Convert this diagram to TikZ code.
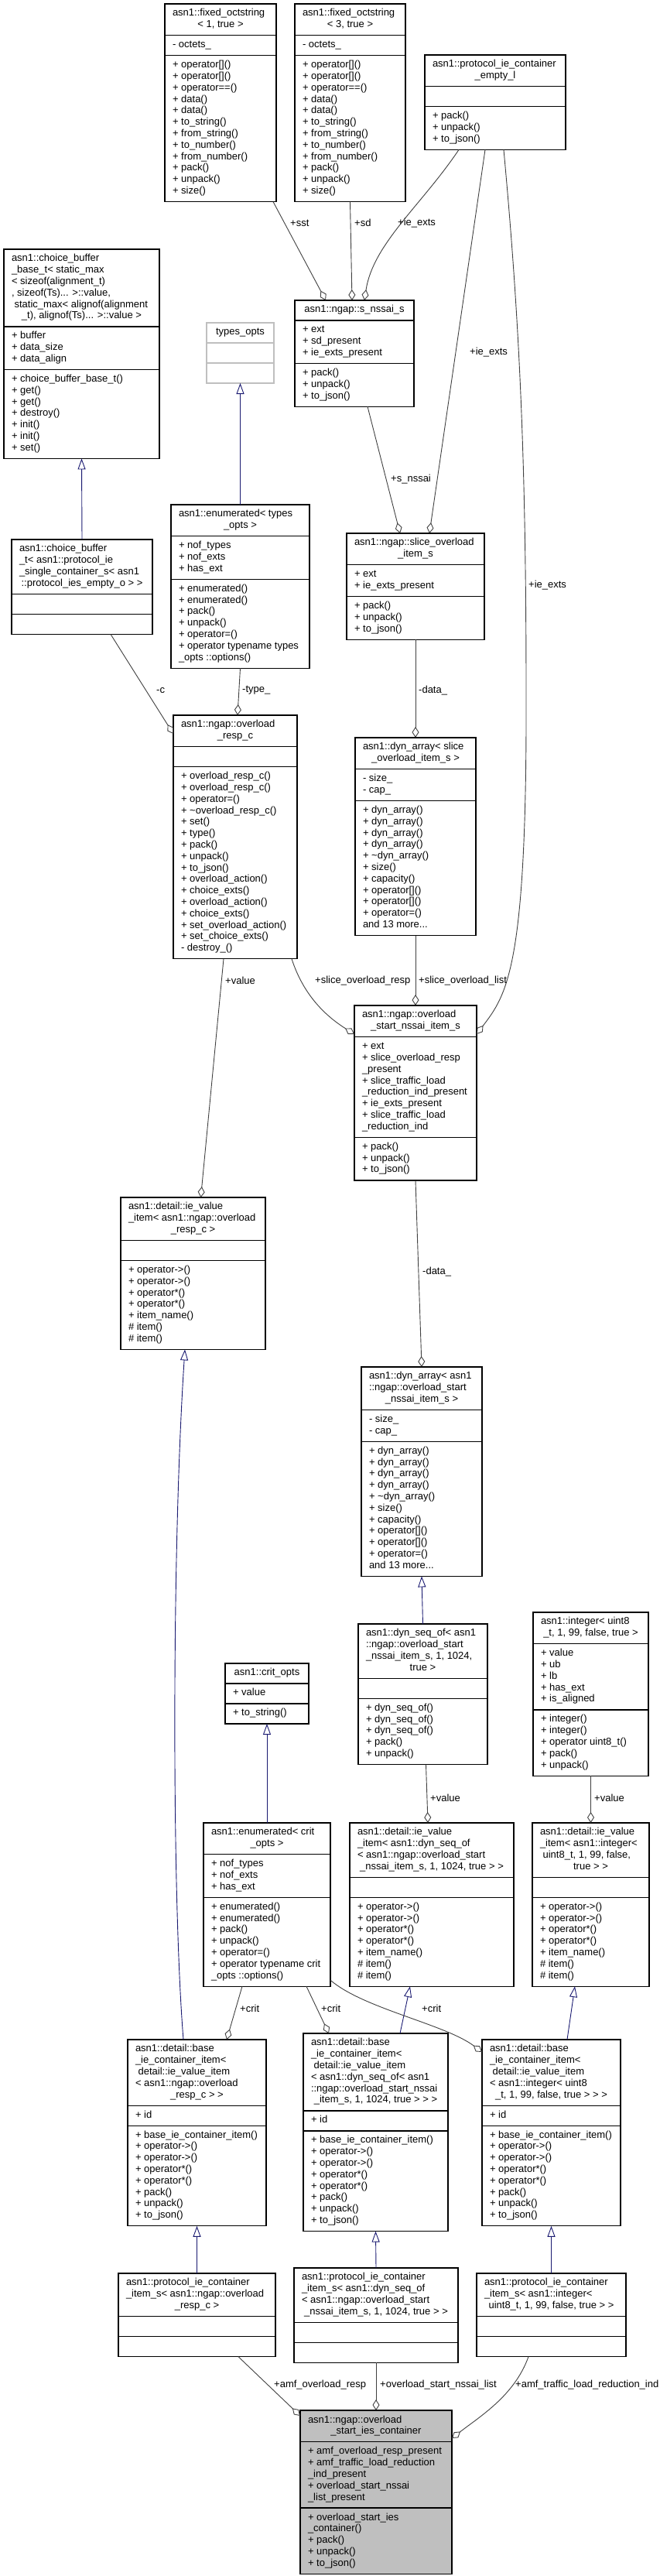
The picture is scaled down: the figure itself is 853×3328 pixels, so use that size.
\documentclass[tikz,border=0pt]{standalone}
\usepackage{fontspec}
\setmainfont{Liberation Sans}
\usetikzlibrary{shapes.multipart}
\usetikzlibrary{arrows.meta}

\definecolor{grey25}{HTML}{404040}
\definecolor{grey75}{HTML}{BFBFBF}
\definecolor{midblue}{HTML}{191970}

\newcommand{\clsect}[1]{\strut#1\strut}
\newcommand{\clmid}[1]{\makebox[\clw][c]{#1}}

\begin{document}
\begin{tikzpicture}[
    x=1pt, y=-1pt,
    cls/.style={
        rectangle split,
        rectangle split parts=3,
        rectangle split part align=left,
        draw=black,
        line width=1.2pt,
        fill=white,
        inner xsep=10pt,
        inner ysep=5pt,
        outer sep=0pt,
        anchor=north west,
        align=left,
        font=\fontsize{13}{14.8}\selectfont
    },
    cw/.style={
        minimum width=#1pt,
        /utils/exec={\pgfmathsetlengthmacro\clw{#1pt-20pt}}
    },
    agg/.style={draw=grey25, line width=0.9pt, -{Diamond[open, length=14pt, width=9pt]}},
    inh/.style={draw=midblue, line width=0.9pt, -{Triangle[open, length=14pt, width=10pt]}},
    lbl/.style={font=\fontsize{13}{14.8}\selectfont, inner sep=0pt, anchor=west}
]
    \useasboundingbox (0,0) rectangle (853,3328);

    % Clases
    \node[cls, cw=144] (fixA) at (213,5) {\clsect{asn1::fixed\_octstring\\\clmid{< 1, true >}}
        \nodepart{second}\clsect{- octets\_}
        \nodepart{third}\clsect{+ operator[]()\\+ operator[]()\\+ operator==()\\+ data()\\+ data()\\+ to\_string()\\+ from\_string()\\+ to\_number()\\+ from\_number()\\+ pack()\\+ unpack()\\+ size()}};
    \node[cls, cw=143] (fixB) at (381,5) {\clsect{asn1::fixed\_octstring\\\clmid{< 3, true >}}
        \nodepart{second}\clsect{- octets\_}
        \nodepart{third}\clsect{+ operator[]()\\+ operator[]()\\+ operator==()\\+ data()\\+ data()\\+ to\_string()\\+ from\_string()\\+ to\_number()\\+ from\_number()\\+ pack()\\+ unpack()\\+ size()}};
    \node[cls, cw=182] (emptyL) at (549,71) {\clsect{asn1::protocol\_ie\_container\\\clmid{\_empty\_l}}
        \nodepart{second}\clsect{}
        \nodepart{third}\clsect{+ pack()\\+ unpack()\\+ to\_json()}};
    \node[cls, cw=201] (cbBase) at (5,322) {\clsect{asn1::choice\_buffer\\\_base\_t< static\_max\\< sizeof(alignment\_t)\\, sizeof(Ts)... >::value,\\\hspace*{3.6pt}static\_max< alignof(alignment\\\clmid{\_t), alignof(Ts)... >::value >}}
        \nodepart{second}\clsect{+ buffer\\+ data\_size\\+ data\_align}
        \nodepart{third}\clsect{+ choice\_buffer\_base\_t()\\+ get()\\+ get()\\+ destroy()\\+ init()\\+ init()\\+ set()}};
    \node[cls, cw=87, draw=grey75] (typesOpts) at (267,417) {\clsect{\clmid{types\_opts}}
        \nodepart{second}\clsect{}
        \nodepart{third}\clsect{}};
    \node[cls, cw=154] (sNssai) at (381,388) {\clsect{\clmid{asn1::ngap::s\_nssai\_s}}
        \nodepart{second}\clsect{+ ext\\+ sd\_present\\+ ie\_exts\_present}
        \nodepart{third}\clsect{+ pack()\\+ unpack()\\+ to\_json()}};
    \node[cls, cw=182] (cbT) at (15,697) {\clsect{asn1::choice\_buffer\\\_t< asn1::protocol\_ie\\\_single\_container\_s< asn1\\\clmid{::protocol\_ies\_empty\_o > >}}
        \nodepart{second}\clsect{}
        \nodepart{third}\clsect{}};
    \node[cls, cw=179] (enumTypes) at (221,652) {\clsect{asn1::enumerated< types\\\clmid{\_opts >}}
        \nodepart{second}\clsect{+ nof\_types\\+ nof\_exts\\+ has\_ext}
        \nodepart{third}\clsect{+ enumerated()\\+ enumerated()\\+ pack()\\+ unpack()\\+ operator=()\\+ operator typename types\\\_opts ::options()}};
    \node[cls, cw=178] (sliceItem) at (448,689) {\clsect{asn1::ngap::slice\_overload\\\clmid{\_item\_s}}
        \nodepart{second}\clsect{+ ext\\+ ie\_exts\_present}
        \nodepart{third}\clsect{+ pack()\\+ unpack()\\+ to\_json()}};
    \node[cls, cw=156] (dynSlice) at (459,953) {\clsect{asn1::dyn\_array< slice\\\clmid{\_overload\_item\_s >}}
        \nodepart{second}\clsect{- size\_\\- cap\_}
        \nodepart{third}\clsect{+ dyn\_array()\\+ dyn\_array()\\+ dyn\_array()\\+ dyn\_array()\\+ \textasciitilde dyn\_array()\\+ size()\\+ capacity()\\+ operator[]()\\+ operator[]()\\+ operator=()\\and 13 more...}};
    \node[cls, cw=160] (respC) at (224,924) {\clsect{asn1::ngap::overload\\\clmid{\_resp\_c}}
        \nodepart{second}\clsect{}
        \nodepart{third}\clsect{+ overload\_resp\_c()\\+ overload\_resp\_c()\\+ operator=()\\+ \textasciitilde overload\_resp\_c()\\+ set()\\+ type()\\+ pack()\\+ unpack()\\+ to\_json()\\+ overload\_action()\\+ choice\_exts()\\+ overload\_action()\\+ choice\_exts()\\+ set\_overload\_action()\\+ set\_choice\_exts()\\- destroy\_()}};
    \node[cls, cw=158] (nssaiItem) at (458,1299) {\clsect{asn1::ngap::overload\\\clmid{\_start\_nssai\_item\_s}}
        \nodepart{second}\clsect{+ ext\\+ slice\_overload\_resp\\\_present\\+ slice\_traffic\_load\\\_reduction\_ind\_present\\+ ie\_exts\_present\\+ slice\_traffic\_load\\\_reduction\_ind}
        \nodepart{third}\clsect{+ pack()\\+ unpack()\\+ to\_json()}};
    \node[cls, cw=187] (ieValResp) at (156,1547) {\clsect{asn1::detail::ie\_value\\\_item< asn1::ngap::overload\\\clmid{\_resp\_c >}}
        \nodepart{second}\clsect{}
        \nodepart{third}\clsect{+ operator->()\\+ operator->()\\+ operator*()\\+ operator*()\\+ item\_name()\\\# item()\\\# item()}};
    \node[cls, cw=156] (dynNssai) at (467,1766) {\clsect{asn1::dyn\_array< asn1\\::ngap::overload\_start\\\clmid{\_nssai\_item\_s >}}
        \nodepart{second}\clsect{- size\_\\- cap\_}
        \nodepart{third}\clsect{+ dyn\_array()\\+ dyn\_array()\\+ dyn\_array()\\+ dyn\_array()\\+ \textasciitilde dyn\_array()\\+ size()\\+ capacity()\\+ operator[]()\\+ operator[]()\\+ operator=()\\and 13 more...}};
    \node[cls, cw=108] (critOpts) at (291,2149) {\clsect{\clmid{asn1::crit\_opts}}
        \nodepart{second}\clsect{+ value}
        \nodepart{third}\clsect{+ to\_string()}};
    \node[cls, cw=167] (dynSeq) at (463,2098) {\clsect{asn1::dyn\_seq\_of< asn1\\::ngap::overload\_start\\\_nssai\_item\_s, 1, 1024,\\\clmid{true >}}
        \nodepart{second}\clsect{}
        \nodepart{third}\clsect{+ dyn\_seq\_of()\\+ dyn\_seq\_of()\\+ dyn\_seq\_of()\\+ pack()\\+ unpack()}};
    \node[cls, cw=149] (integer) at (689,2083) {\clsect{asn1::integer< uint8\\\clmid{\_t, 1, 99, false, true >}}
        \nodepart{second}\clsect{+ value\\+ ub\\+ lb\\+ has\_ext\\+ is\_aligned}
        \nodepart{third}\clsect{+ integer()\\+ integer()\\+ operator uint8\_t()\\+ pack()\\+ unpack()}};
    \node[cls, cw=164] (enumCrit) at (263,2355) {\clsect{asn1::enumerated< crit\\\clmid{\_opts >}}
        \nodepart{second}\clsect{+ nof\_types\\+ nof\_exts\\+ has\_ext}
        \nodepart{third}\clsect{+ enumerated()\\+ enumerated()\\+ pack()\\+ unpack()\\+ operator=()\\+ operator typename crit\\\_opts ::options()}};
    \node[cls, cw=212] (ieValSeq) at (452,2355) {\clsect{asn1::detail::ie\_value\\\_item< asn1::dyn\_seq\_of\\< asn1::ngap::overload\_start\\\clmid{\_nssai\_item\_s, 1, 1024, true > >}}
        \nodepart{second}\clsect{}
        \nodepart{third}\clsect{+ operator->()\\+ operator->()\\+ operator*()\\+ operator*()\\+ item\_name()\\\# item()\\\# item()}};
    \node[cls, cw=151] (ieValInt) at (688,2355) {\clsect{asn1::detail::ie\_value\\\_item< asn1::integer<\\\hspace*{3.6pt}uint8\_t, 1, 99, false,\\\clmid{true > >}}
        \nodepart{second}\clsect{}
        \nodepart{third}\clsect{+ operator->()\\+ operator->()\\+ operator*()\\+ operator*()\\+ item\_name()\\\# item()\\\# item()}};
    \node[cls, cw=179] (base1) at (165,2635) {\clsect{asn1::detail::base\\\_ie\_container\_item<\\\hspace*{3.6pt}detail::ie\_value\_item\\< asn1::ngap::overload\\\clmid{\_resp\_c > >}}
        \nodepart{second}\clsect{+ id}
        \nodepart{third}\clsect{+ base\_ie\_container\_item()\\+ operator->()\\+ operator->()\\+ operator*()\\+ operator*()\\+ pack()\\+ unpack()\\+ to\_json()}};
    \node[cls, cw=187] (base2) at (392,2627) {\clsect{asn1::detail::base\\\_ie\_container\_item<\\\hspace*{3.6pt}detail::ie\_value\_item\\< asn1::dyn\_seq\_of< asn1\\::ngap::overload\_start\_nssai\\\clmid{\_item\_s, 1, 1024, true > > >}}
        \nodepart{second}\clsect{+ id}
        \nodepart{third}\clsect{+ base\_ie\_container\_item()\\+ operator->()\\+ operator->()\\+ operator*()\\+ operator*()\\+ pack()\\+ unpack()\\+ to\_json()}};
    \node[cls, cw=179] (base3) at (623,2635) {\clsect{asn1::detail::base\\\_ie\_container\_item<\\\hspace*{3.6pt}detail::ie\_value\_item\\< asn1::integer< uint8\\\clmid{\_t, 1, 99, false, true > > >}}
        \nodepart{second}\clsect{+ id}
        \nodepart{third}\clsect{+ base\_ie\_container\_item()\\+ operator->()\\+ operator->()\\+ operator*()\\+ operator*()\\+ pack()\\+ unpack()\\+ to\_json()}};
    \node[cls, cw=203] (pic1) at (153,2937) {\clsect{asn1::protocol\_ie\_container\\\_item\_s< asn1::ngap::overload\\\clmid{\_resp\_c >}}
        \nodepart{second}\clsect{}
        \nodepart{third}\clsect{}};
    \node[cls, cw=212] (pic2) at (380,2930) {\clsect{asn1::protocol\_ie\_container\\\_item\_s< asn1::dyn\_seq\_of\\< asn1::ngap::overload\_start\\\clmid{\_nssai\_item\_s, 1, 1024, true > >}}
        \nodepart{second}\clsect{}
        \nodepart{third}\clsect{}};
    \node[cls, cw=193] (pic3) at (616,2937) {\clsect{asn1::protocol\_ie\_container\\\_item\_s< asn1::integer<\\\clmid{uint8\_t, 1, 99, false, true > >}}
        \nodepart{second}\clsect{}
        \nodepart{third}\clsect{}};
    \node[cls, cw=196, fill=grey75] (main) at (388,3114) {\clsect{asn1::ngap::overload\\\clmid{\_start\_ies\_container}}
        \nodepart{second}\clsect{+ amf\_overload\_resp\_present\\+ amf\_traffic\_load\_reduction\\\_ind\_present\\+ overload\_start\_nssai\\\_list\_present}
        \nodepart{third}\clsect{+ overload\_start\_ies\\\_container()\\+ pack()\\+ unpack()\\+ to\_json()}};

    % Herencia
    \draw[inh] (enumTypes.north) -- (typesOpts.south);
    \draw[inh] (cbT.north) -- (cbBase.south);
    \draw[inh] ([xshift=72pt]base1.north west) .. controls (222,2450) and (222,2000) .. ([xshift=83pt]ieValResp.south west);
    \draw[inh] (dynSeq.north) -- (dynNssai.south);
    \draw[inh] (enumCrit.north) -- (critOpts.south);
    \draw[inh] ([xshift=125pt]base2.north west) -- ([xshift=78pt]ieValSeq.south west);
    \draw[inh] ([xshift=110pt]base3.north west) -- ([xshift=55pt]ieValInt.south west);
    \draw[inh] (pic1.north) -- (base1.south);
    \draw[inh] (pic2.north) -- (base2.south);
    \draw[inh] (pic3.north) -- (base3.south);

    % Agregaciones
    \draw[agg] ([xshift=-4pt]fixA.south east) -- ([xshift=40pt]sNssai.north west);
    \draw[agg] (fixB.south) -- ([xshift=74pt]sNssai.north west);
    \draw[agg] ([xshift=44pt]emptyL.south west) .. controls (545,265) and (482,315) .. ([xshift=90pt]sNssai.north west);
    \draw[agg] ([xshift=78pt]emptyL.south west) -- ([xshift=107pt]sliceItem.north west);
    \draw[agg] ([xshift=102pt]emptyL.south west) .. controls (672,420) and (680,600) .. (680,900)
        .. controls (681,1250) and (655,1285) .. ([yshift=-37pt]nssaiItem.north east);
    \draw[agg] ([xshift=94pt]sNssai.south west) -- ([xshift=69pt]sliceItem.north west);
    \draw[agg] ([xshift=128pt]cbT.south west) -- ([yshift=-24pt]respC.north west);
    \draw[agg] (enumTypes.south) -- ([xshift=3pt]respC.north);
    \draw[agg] (sliceItem.south) -- (dynSlice.north);
    \draw[agg] ([xshift=65pt]respC.south west) -- ([xshift=10pt]ieValResp.north);
    \draw[agg] ([xshift=-7pt]respC.south east) .. controls (392,1285) and (420,1312) .. ([yshift=-37pt]nssaiItem.north west);
    \draw[agg] (dynSlice.south) -- (nssaiItem.north);
    \draw[agg] (nssaiItem.south) -- (dynNssai.north);
    \draw[agg] ([xshift=4pt]dynSeq.south) -- ([xshift=-5pt]ieValSeq.north);
    \draw[agg] (integer.south) -- (ieValInt.north);
    \draw[agg] ([xshift=50pt]enumCrit.south west) -- ([xshift=128pt]base1.north west);
    \draw[agg] ([xshift=133pt]enumCrit.south west) -- ([xshift=33pt]base2.north west);
    \draw[agg] ([yshift=8pt]enumCrit.south east) .. controls (470,2595) and (575,2615) .. ([yshift=-16pt]base3.north west);
    \draw[agg] ([xshift=155pt]pic1.south west) -- ([yshift=-7pt]main.north west);
    \draw[agg] (pic2.south) -- (main.north);
    \draw[agg] ([xshift=67pt]pic3.south west) .. controls (665,3095) and (620,3122) .. ([yshift=-36pt]main.north east);

    % Etiquetas
    \node[lbl] (lsst) at (375,288) {+sst};
    \node[lbl] (lsd) at (458,288) {+sd};
    \node[lbl] (lexts1) at (514,288) {+ie\_exts};
    \node[lbl] (lexts2) at (607,455) {+ie\_exts};
    \node[lbl] (lexts3) at (683,756) {+ie\_exts};
    \node[lbl] (lsnssai) at (505,619) {+s\_nssai};
    \node[lbl] (lc) at (202,892) {-c};
    \node[lbl] (ltype) at (313,892) {-type\_};
    \node[lbl] (ldata1) at (541,892) {-data\_};
    \node[lbl] (lvalue1) at (291,1267) {+value};
    \node[lbl] (lsresp) at (407,1267) {+slice\_overload\_resp};
    \node[lbl] (lslist) at (541,1267) {+slice\_overload\_list};
    \node[lbl] (ldata2) at (546,1643) {-data\_};
    \node[lbl] (lvalue2) at (556,2323) {+value};
    \node[lbl] (lvalue3) at (768,2323) {+value};
    \node[lbl] (lcrit1) at (310,2595) {+crit};
    \node[lbl] (lcrit2) at (415,2595) {+crit};
    \node[lbl] (lcrit3) at (545,2595) {+crit};
    \node[lbl] (lamfresp) at (354,3081) {+amf\_overload\_resp};
    \node[lbl] (lnssailist) at (491,3081) {+overload\_start\_nssai\_list};
    \node[lbl] (ltraffic) at (666,3081) {+amf\_traffic\_load\_reduction\_ind};
\end{tikzpicture}
\end{document}
